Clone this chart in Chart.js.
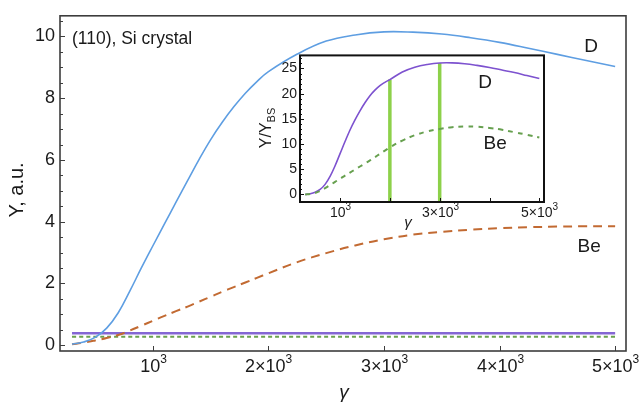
<!DOCTYPE html>
<html>
<head>
<meta charset="utf-8">
<script src="https://cdn.jsdelivr.net/npm/chart.js@4.4.1/dist/chart.umd.min.js"></script>
<style>
  html, body { margin: 0; padding: 0; background: #fff; }
  #wrap { position: relative; width: 643px; height: 406px; }
  #main { position: absolute; left: 0; top: 0; }
  #inset { position: absolute; left: 240px; top: 44px; }
</style>
</head>
<body>
<div id="wrap">
  <canvas id="main" width="643" height="406"></canvas>
  <canvas id="inset" width="320" height="190"></canvas>
</div>
<script>
// DATA

// gamma grid shared by main plot and inset
const gamma = [300, 400, 500, 600, 700, 800, 900, 1000, 1100, 1200, 1300, 1400, 1500, 1600, 1700, 1800, 1900,
  2000, 2250, 2500, 2750, 3000, 3250, 3500, 3750, 4000, 4250, 4500, 4750, 5000];

// main plot: yield, a.u.
const yieldD = [0.03, 0.1, 0.25, 0.55, 1.05, 1.75, 2.5, 3.22, 3.93, 4.63, 5.33, 6.02, 6.66, 7.22, 7.72, 8.16, 8.54,
  8.86, 9.43, 9.85, 10.05, 10.15, 10.14, 10.08, 9.96, 9.81, 9.62, 9.42, 9.22, 9.03];
const yieldBe = [0.03, 0.08, 0.15, 0.23, 0.33, 0.47, 0.63, 0.79, 0.95, 1.1, 1.25, 1.41, 1.57, 1.73, 1.88, 2.03, 2.18,
  2.33, 2.69, 2.98, 3.23, 3.43, 3.58, 3.67, 3.74, 3.79, 3.82, 3.84, 3.85, 3.85];
// flat background (BS) yields
const bsGamma = [300, 5000];
const bsD = [0.385, 0.385];
const bsBe = [0.27, 0.27];

// inset: Y / Y_BS
const ratioD = [0, 0.15, 0.45, 1.0, 2.0, 3.6, 5.7, 8.1, 10.5, 12.8, 14.8, 16.6, 18.2, 19.6, 20.7, 21.6, 22.25,
  22.8, 24.3, 25.25, 25.8, 26.1, 26.12, 25.95, 25.62, 25.2, 24.7, 24.2, 23.6, 23.0];
const ratioBe = [0, 0.1, 0.3, 0.7, 1.25, 1.85, 2.5, 3.1, 3.75, 4.35, 4.95, 5.55, 6.15, 6.75, 7.4, 8.05, 8.7,
  9.35, 10.7, 11.75, 12.5, 13.0, 13.35, 13.5, 13.45, 13.2, 12.85, 12.35, 11.85, 11.3];
// green marker bars in the inset
const markerGamma = [2000, 3000];
const markerTop = [22.8, 26.1];

// ticks
const xTicks = [1000, 2000, 3000, 4000, 5000];
const xTickBase = ['10', '2\u00d710', '3\u00d710', '4\u00d710', '5\u00d710'];
const insetTickBase = ['10', '', '3\u00d710', '', '5\u00d710'];
const tickExp = '3';
const yTicksMain = [0, 2, 4, 6, 8, 10];
const yTicksInset = [0, 5, 10, 15, 20, 25];

const FONT = "'Liberation Sans', Arial, sans-serif";
const INK = '#1a1a1a';
const insetYMin = -1.5;

Chart.defaults.font.family = FONT;
Chart.defaults.color = INK;

function pts(xs, ys) {
  return xs.map((x, i) => ({ x: x, y: ys[i] }));
}

// frame, inward ticks, superscript x labels, text labels
const framePlugin = {
  id: 'frame',
  beforeDraw(chart, args, o) {
    const a = chart.chartArea, ctx = chart.ctx;
    if (o.fill) {
      ctx.save();
      ctx.fillStyle = o.fill;
      ctx.fillRect(a.left, a.top, a.right - a.left, a.bottom - a.top);
      ctx.restore();
    }
  },
  afterDraw(chart, args, o) {
    const a = chart.chartArea, ctx = chart.ctx;
    const xs = chart.scales.x, ys = chart.scales.y;
    ctx.save();

    ctx.strokeStyle = o.frameColor;
    ctx.lineWidth = o.frameWidth;
    ctx.strokeRect(a.left, a.top, a.right - a.left, a.bottom - a.top);

    // y ticks (major + minor)
    ctx.lineWidth = 1;
    for (let v = o.yTicks[0]; v <= ys.max; v += o.yMinor) {
      const major = o.yTicks.some(t => Math.abs(t - v) < 1e-6);
      const py = Math.round(ys.getPixelForValue(v)) + 0.5;
      ctx.beginPath();
      ctx.moveTo(a.left, py);
      ctx.lineTo(a.left + (major ? o.major : o.minor), py);
      ctx.stroke();
    }

    // x ticks + labels with superscript
    ctx.fillStyle = INK;
    ctx.textBaseline = 'alphabetic';
    ctx.textAlign = 'left';
    xs.ticks.forEach((t, i) => {
      const px = Math.round(xs.getPixelForValue(t.value)) + 0.5;
      ctx.beginPath();
      ctx.moveTo(px, a.bottom);
      ctx.lineTo(px, a.bottom - o.major);
      ctx.stroke();
      const base = o.xBase[i];
      if (!base) return;
      ctx.font = o.tickFont;
      const w1 = ctx.measureText(base).width;
      ctx.font = o.supFont;
      const w2 = ctx.measureText(tickExp).width;
      const x0 = px - (w1 + w2) / 2;
      ctx.font = o.tickFont;
      ctx.fillText(base, x0, a.bottom + o.labelDy);
      ctx.font = o.supFont;
      ctx.fillText(tickExp, x0 + w1, a.bottom + o.supDy);
    });

    // labels placed in data coordinates
    ctx.textBaseline = 'middle';
    (o.texts || []).forEach(t => {
      ctx.font = t.font + ' ' + FONT;
      ctx.textAlign = t.align || 'center';
      ctx.fillText(t.text, xs.getPixelForValue(t.x), ys.getPixelForValue(t.y));
    });

    // axis titles (pixel positions, optional subscript)
    (o.titles || []).forEach(t => {
      ctx.save();
      ctx.translate(t.px, t.py);
      ctx.rotate(t.rot || 0);
      ctx.font = t.font + ' ' + FONT;
      const w1 = ctx.measureText(t.text).width;
      let w2 = 0;
      if (t.sub) {
        ctx.font = t.subFont + ' ' + FONT;
        w2 = ctx.measureText(t.sub).width;
      }
      const x0 = -(w1 + w2) / 2;
      ctx.textAlign = 'left';
      ctx.font = t.font + ' ' + FONT;
      ctx.fillText(t.text, x0, 0);
      if (t.sub) {
        ctx.font = t.subFont + ' ' + FONT;
        ctx.fillText(t.sub, x0 + w1, t.subDy);
      }
      ctx.restore();
    });
    ctx.restore();
  }
};

function hiddenGrid() {
  return { display: false, drawTicks: false };
}

// MAIN CHART
new Chart(document.getElementById('main'), {
  type: 'line',
  data: {
    datasets: [
      { data: pts(gamma, yieldD), borderColor: '#5e9ee2', borderWidth: 1.6 },
      { data: pts(gamma, yieldBe), borderColor: '#c26a32', borderWidth: 2, borderDash: [9, 6] },
      { data: pts(bsGamma, bsD), borderColor: '#8466d4', borderWidth: 2.5 },
      { data: pts(bsGamma, bsBe), borderColor: '#6aa14e', borderWidth: 2, borderDash: [4, 3] }
    ]
  },
  options: {
    responsive: false,
    animation: false,
    devicePixelRatio: 1,
    layout: { padding: { top: 12, right: 17, left: 0, bottom: 0 } },
    elements: {
      point: { radius: 0 },
      line: { tension: 0.4, fill: false }
    },
    scales: {
      x: {
        type: 'linear', min: 196, max: 5094,
        grid: hiddenGrid(), border: { display: false },
        ticks: { display: false },
        afterBuildTicks: s => { s.ticks = xTicks.map(v => ({ value: v })); },
        afterFit: s => { s.height = 55; }
      },
      y: {
        type: 'linear', min: -0.19, max: 10.67,
        grid: hiddenGrid(), border: { display: false },
        ticks: { font: { size: 18 }, padding: 5, color: INK },
        afterBuildTicks: s => { s.ticks = yTicksMain.map(v => ({ value: v })); },
        afterFit: s => { s.width = 60; }
      }
    },
    plugins: {
      legend: { display: false },
      tooltip: { enabled: false },
      frame: {
        frameColor: '#3d3d3d', frameWidth: 1.6,
        yTicks: yTicksMain, yMinor: 0.5, major: 5, minor: 3,
        xBase: xTickBase,
        tickFont: '18px ' + FONT, supFont: '12px ' + FONT, labelDy: 21, supDy: 12,
        texts: [
          { text: '(110), Si crystal', x: 299, y: 9.9, font: '17.5px', align: 'left' },
          { text: 'D', x: 4792, y: 9.68, font: '19px' },
          { text: 'Be', x: 4775, y: 3.2, font: '19px' }
        ],
        titles: [
          { text: 'Y, a.u.', px: 17, py: 190, rot: -Math.PI / 2, font: '20px' },
          { text: '\u03b3', px: 344, py: 393, font: 'italic 19px' }
        ]
      }
    }
  },
  plugins: [framePlugin]
});

// INSET CHART
const markerSets = markerGamma.map((g, i) => ({
  data: [{ x: g, y: insetYMin }, { x: g, y: markerTop[i] }],
  borderColor: '#8dd14a', borderWidth: 3.5, tension: 0
}));

new Chart(document.getElementById('inset'), {
  type: 'line',
  data: {
    datasets: [
      { data: pts(gamma, ratioBe), borderColor: '#67a04f', borderWidth: 2, borderDash: [5, 5] },
      { data: pts(gamma, ratioD), borderColor: '#7d52cf', borderWidth: 1.6 }
    ].concat(markerSets)
  },
  options: {
    responsive: false,
    animation: false,
    devicePixelRatio: 1,
    layout: { padding: { top: 10, right: 16, left: 0, bottom: 0 } },
    elements: {
      point: { radius: 0 },
      line: { tension: 0.4, fill: false }
    },
    scales: {
      x: {
        type: 'linear', min: 196, max: 5094,
        grid: hiddenGrid(), border: { display: false },
        ticks: { display: false },
        afterBuildTicks: s => { s.ticks = xTicks.map(v => ({ value: v })); },
        afterFit: s => { s.height = 32; }
      },
      y: {
        type: 'linear', min: insetYMin, max: 27.6,
        grid: hiddenGrid(), border: { display: false },
        ticks: { font: { size: 14 }, padding: 3, color: INK },
        afterBuildTicks: s => { s.ticks = yTicksInset.map(v => ({ value: v })); },
        afterFit: s => { s.width = 60; }
      }
    },
    plugins: {
      legend: { display: false },
      tooltip: { enabled: false },
      frame: {
        fill: '#ffffff',
        frameColor: '#111111', frameWidth: 2,
        yTicks: yTicksInset, yMinor: 1, major: 4, minor: 2,
        xBase: insetTickBase,
        tickFont: '14px ' + FONT, supFont: '10px ' + FONT, labelDy: 15, supDy: 8,
        texts: [
          { text: 'D', x: 3914, y: 22.1, font: '19px' },
          { text: 'Be', x: 4114, y: 10.1, font: '19px' }
        ],
        titles: [
          { text: 'Y/Y', sub: 'BS', px: 27, py: 84, rot: -Math.PI / 2, font: '16px', subFont: '11px', subDy: 5 },
          { text: '\u03b3', px: 168, py: 179, font: 'italic 15px' }
        ]
      }
    }
  },
  plugins: [framePlugin]
});
</script>
</body>
</html>
